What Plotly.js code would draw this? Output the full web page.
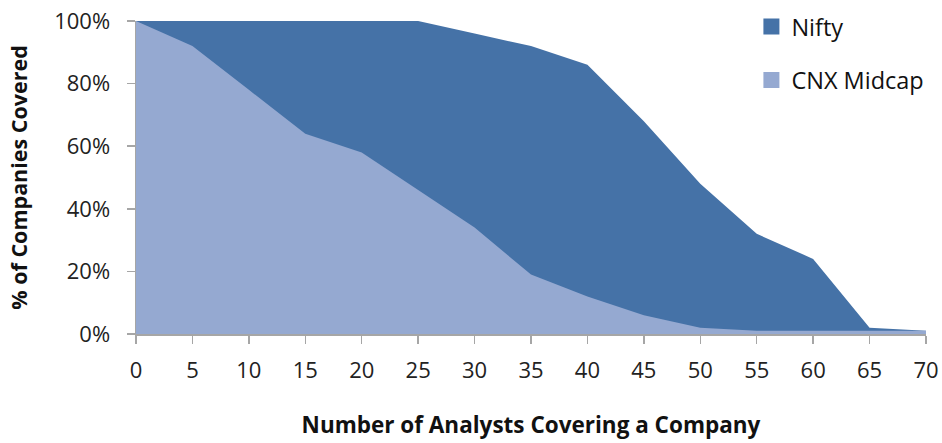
<!DOCTYPE html>
<html>
<head>
<meta charset="utf-8">
<script src="https://cdn.plot.ly/plotly-3.0.1.min.js"></script>
<style>html,body{margin:0;padding:0;background:#fff;}#chart{width:942px;height:443px;}</style>
</head>
<body>
<div id="chart"></div>
<script>
var analysts = [0, 5, 10, 15, 20, 25, 30, 35, 40, 45, 50, 55, 60, 65, 70];
var nifty    = [1.00, 1.00, 1.00, 1.00, 1.00, 1.00, 0.96, 0.92, 0.86, 0.68, 0.48, 0.32, 0.24, 0.02, 0.01];
var midcap   = [1.00, 0.92, 0.78, 0.64, 0.58, 0.46, 0.34, 0.19, 0.12, 0.06, 0.02, 0.01, 0.01, 0.01, 0.01];
var xTicks   = [0, 5, 10, 15, 20, 25, 30, 35, 40, 45, 50, 55, 60, 65, 70];
var yTicks   = [0, 0.2, 0.4, 0.6, 0.8, 1.0];
var yTickText = ['0%', '20%', '40%', '60%', '80%', '100%'];
var seriesNames = ['Nifty', 'CNX Midcap'];
var seriesColors = ['#4572A7', '#95A9D1'];

var FONT = '"Open Sans", "Noto Sans", sans-serif';

var traces = [
  {
    x: analysts, y: nifty, name: seriesNames[0], type: 'scatter', mode: 'lines',
    fill: 'tozeroy', fillcolor: seriesColors[0], line: {width: 0, color: seriesColors[0]},
    showlegend: false, hoverinfo: 'skip'
  },
  {
    x: analysts, y: midcap, name: seriesNames[1], type: 'scatter', mode: 'lines',
    fill: 'tozeroy', fillcolor: seriesColors[1], line: {width: 0, color: seriesColors[1]},
    showlegend: false, hoverinfo: 'skip'
  },
  {
    x: [null], y: [null], name: seriesNames[0], type: 'scatter', mode: 'markers',
    marker: {symbol: 'square', size: 16, color: seriesColors[0]},
    legendgroup: 'a', showlegend: true, hoverinfo: 'skip'
  },
  {
    x: [null], y: [null], name: seriesNames[1], type: 'scatter', mode: 'markers',
    marker: {symbol: 'square', size: 16, color: seriesColors[1]},
    legendgroup: 'b', showlegend: true, hoverinfo: 'skip'
  }
];

var layout = {
  width: 942, height: 443,
  margin: {l: 136, r: 16, t: 21, b: 109, autoexpand: false},
  paper_bgcolor: '#ffffff', plot_bgcolor: '#ffffff',
  font: {family: FONT, size: 22, color: '#222222'},
  showlegend: true,
  legend: {
    x: 0.779, xanchor: 'left', y: 1.052, yanchor: 'top',
    bgcolor: 'rgba(0,0,0,0)', font: {family: FONT, size: 23.5, color: '#111111'},
    traceorder: 'grouped', tracegroupgap: 20, itemwidth: 30
  },
  xaxis: {
    range: [0, 70], tickvals: xTicks, ticktext: xTicks.map(String),
    showgrid: false, zeroline: false, showline: true, linecolor: '#A6A6A6', linewidth: 1.5,
    ticks: 'outside', ticklen: 8, tickcolor: '#A6A6A6', tickwidth: 1.5,
    ticklabelstandoff: 8,
    tickfont: {family: FONT, size: 22, color: '#222222'},
    title: {text: 'Number of Analysts Covering a Company', standoff: 34,
            font: {family: FONT, size: 22.5, color: '#111111', weight: 'bold'}}
  },
  yaxis: {
    range: [0, 1], tickvals: yTicks, ticktext: yTickText,
    showgrid: false, zeroline: false, showline: true, linecolor: '#A6A6A6', linewidth: 1.5,
    ticks: 'outside', ticklen: 8, tickcolor: '#A6A6A6', tickwidth: 1.5,
    ticklabelstandoff: 12,
    tickfont: {family: FONT, size: 22, color: '#222222'},
    title: {text: '% of Companies Covered', standoff: 20,
            font: {family: FONT, size: 21.5, color: '#111111', weight: 'bold'}}
  }
};

Plotly.newPlot('chart', traces, layout, {displayModeBar: false, staticPlot: true});
</script>
</body>
</html>
